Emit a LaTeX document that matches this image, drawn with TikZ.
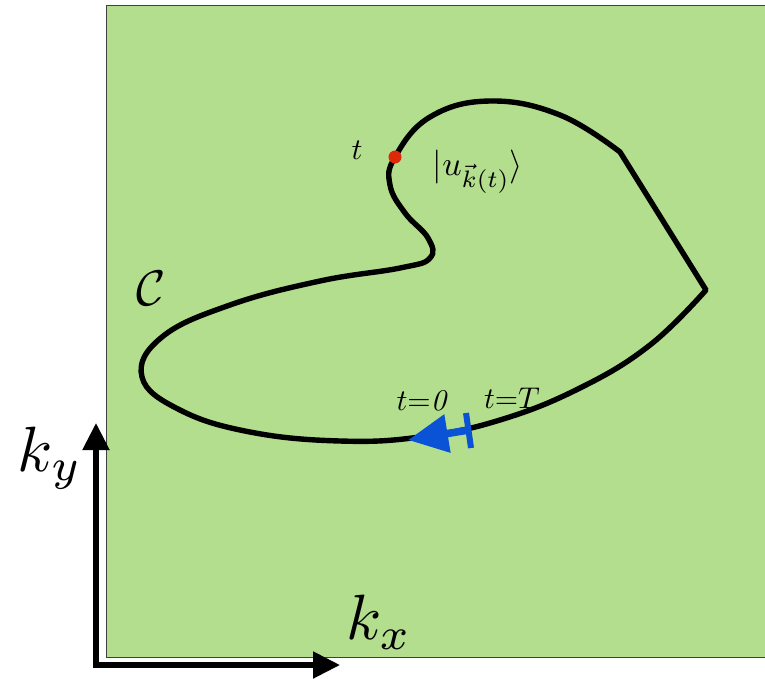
\documentclass[tikz,border=0pt]{standalone}
\usepackage{graphicx}
\usetikzlibrary{arrows.meta}
\definecolor{bg}{RGB}{179,222,141}
\definecolor{arrblue}{RGB}{10,82,214}
\definecolor{dotred}{RGB}{222,40,10}
\begin{document}
\begin{tikzpicture}[x=1pt,y=-1pt,
  curve/.style={line width=5.4pt,line join=round},
  axis/.style={line width=5.2pt,-{Triangle[length=27pt,width=26pt]}},
  lbl/.style={inner sep=0pt}]
\useasboundingbox (0,0) rectangle (765,678);
\fill[bg,draw=black!75,line width=1pt] (106,5) rectangle (765,657);
% axes
\coordinate (o) at (96,665);
\coordinate (ytip) at (96,423);
\coordinate (xtip) at (340,665);
\draw[axis] ([yshift=2.6pt]o) -- (ytip);
\draw[axis] ([xshift=-2.6pt]o) -- (xtip);
\node[lbl] (ky) at (50,458) {\scalebox{6.4}{$k_y$}};
\node[lbl] (kx) at (379,622) {\scalebox{6.4}{$k_x$}};
% curve
\draw[curve] plot[smooth,tension=0.7] coordinates {(706,290) (650,345) (580,388) (500,420) (420,437) (340,441) (250,432) (180,410) (142,377) (162,337) (230,305) (320,281) (400,268) (430,258) (428,238) (405,213) (390,185) (395,157) (430,117) (490,101) (560,115) (620,152)} -- cycle;
% blue arrow and bar
\coordinate (bar) at (469,430);
\coordinate (start) at (408,440);
\draw[arrblue,line width=7.5pt,-{Triangle[length=40pt,width=37pt]}] (bar) -- (start);
\draw[arrblue,line width=6pt] (466,413) -- (471,448);
% red dot
\node[circle,fill=dotred,minimum size=13pt,inner sep=0pt] (dot) at (395,157) {};
% labels
\node[lbl] (t) at (357,150) {\scalebox{3.0}{$t$}};
\node[lbl] (u) at (478,172) {\scalebox{3.4}{$|u_{\vec{k}(t)}\rangle$}};
\node[lbl] (C) at (151,288) {\scalebox{5.0}{$\mathcal{C}$}};
\node[lbl] (t0) at (422,401) {\scalebox{3.0}{$t$=\textit{0}}};
\node[lbl] (tT) at (512,398) {\scalebox{3.0}{$t$=$T$}};
\end{tikzpicture}
\end{document}
